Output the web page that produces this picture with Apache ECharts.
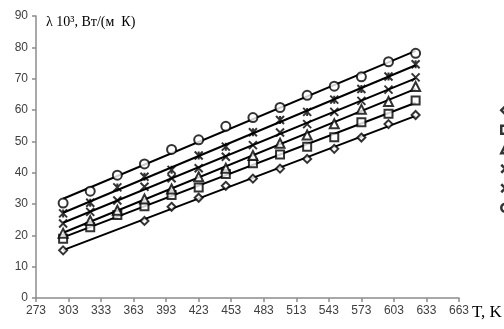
<!DOCTYPE html>
<html><head><meta charset="utf-8">
<script src="https://cdn.jsdelivr.net/npm/echarts@6/dist/echarts.min.js"></script>
<style>html,body{margin:0;padding:0;background:#fff}#c{width:504px;height:329px}</style>
</head><body><div id="c"></div>
<script>
const temps = [298,323,348,373,398,423,448,473,498,523,548,573,598,623];
const sDiamond = [15.2,null,null,24.6,29.1,32.0,35.8,38.1,41.3,44.4,47.6,51.2,55.5,58.4];
const sSquare  = [18.9,22.6,26.5,29.3,32.9,35.3,39.6,43.0,45.8,48.3,51.3,56.1,58.8,63.0];
const sTriangle= [20.7,24.7,28.0,31.6,34.8,38.7,41.4,45.5,49.4,52.0,55.6,60.2,62.7,67.5];
const sCross   = [23.8,27.5,31.1,35.5,38.2,41.4,45.1,48.8,52.8,55.5,59.4,62.9,66.5,70.4];
const sStar    = [27.0,30.4,35.3,38.7,40.9,45.5,48.3,52.9,56.8,59.4,63.3,66.7,70.7,74.6];
const sCircle  = [30.3,34.1,39.2,42.8,47.4,50.5,54.8,57.6,60.8,64.7,67.6,70.6,75.4,78.1];
const xTicks = [273,303,333,363,393,423,453,483,513,543,573,603,633,663];
const yTicks = [0,10,20,30,40,50,60,70,80,90];
const seriesNames = ['Ряд1','Ряд2','Ряд3','Ряд4','Ряд5','Ряд6'];
const yTitle = 'λ 10³, Вт/(м  К)';
const xTitle = 'T, K';

const allData = [sDiamond,sSquare,sTriangle,sCross,sStar,sCircle];
const symbols = [
  'diamond','rect','triangle',
  'path://M0,0L10,10M10,0L0,10',
  'path://M0,0L10,10M10,0L0,10M5,0L5,10',
  'circle'
];
const sizes = [8,8,9,8,8,9];

function fit(vals){
  let n=0,sx=0,sy=0,sxx=0,sxy=0;
  temps.forEach((t,i)=>{ const v=vals[i]; if(v==null) return; n++; sx+=t; sy+=v; sxx+=t*t; sxy+=t*v; });
  const b=(n*sxy-sx*sy)/(n*sxx-sx*sx); const a=(sy-b*sx)/n;
  const xs=temps.filter((t,i)=>vals[i]!=null);
  const x0=xs[0], x1=xs[xs.length-1];
  return [[x0,a+b*x0],[x1,a+b*x1]];
}

const series=[];
allData.forEach((vals,k)=>{
  series.push({
    name: 'trend'+k, type:'line', z:1, silent:true, symbol:'none', color:'#000',
    data: fit(vals), lineStyle:{color:'#000',width:2}
  });
});
allData.forEach((vals,k)=>{
  const isLine = k===3||k===4;
  series.push({
    name: seriesNames[k], type:'scatter', z:3,
    symbol: symbols[k], symbolSize: sizes[k],
    data: temps.map((t,i)=>vals[i]==null?null:[t,vals[i]]).filter(d=>d),
    itemStyle:{color: isLine?'#000':'#fff', borderColor:'#000', borderWidth:2}
  });
});

const axisCol='#8c8c8c';
const chart=echarts.init(document.getElementById('c'),null,{renderer:'canvas'});
chart.setOption({
  animation:false,
  backgroundColor:'#fff',
  grid:{left:36,top:16,width:423,height:282},
  legend:{
    orient:'vertical', left:495, top:100, itemWidth:8, itemHeight:8, itemGap:9,
    formatter:()=>'', selectedMode:false,
    data: seriesNames.map((n,k)=>({name:n, icon:symbols[k],
      itemStyle:{color:(k===3||k===4)?'#000':'#fff', borderColor:'#000', borderWidth:2.5}}))
  },
  xAxis:{
    type:'value', min:273, max:663,
    axisLine:{show:true,lineStyle:{color:axisCol,width:1.5}},
    axisTick:{show:true,length:4,inside:false,customValues:xTicks,lineStyle:{color:axisCol,width:1.5}},
    axisLabel:{customValues:xTicks,color:'#404040',fontFamily:'Liberation Sans',fontSize:12,margin:7},
    splitLine:{show:false}
  },
  yAxis:{
    type:'value', min:0, max:90, interval:10,
    axisLine:{show:true,lineStyle:{color:axisCol,width:1.5}},
    axisTick:{show:true,length:4,lineStyle:{color:axisCol,width:1.5}},
    axisLabel:{color:'#404040',fontFamily:'Liberation Sans',fontSize:12,margin:8,
      formatter:v=>yTicks.includes(v)?String(v):''},
    splitLine:{show:false}
  },
  graphic:[
    {type:'text',left:46,top:15,style:{text:yTitle,font:'14px "Liberation Serif"',fill:'#000'}},
    {type:'text',left:472,top:304,style:{text:xTitle,font:'17px "Liberation Serif"',fill:'#000'}}
  ],
  series
});
</script></body></html>
